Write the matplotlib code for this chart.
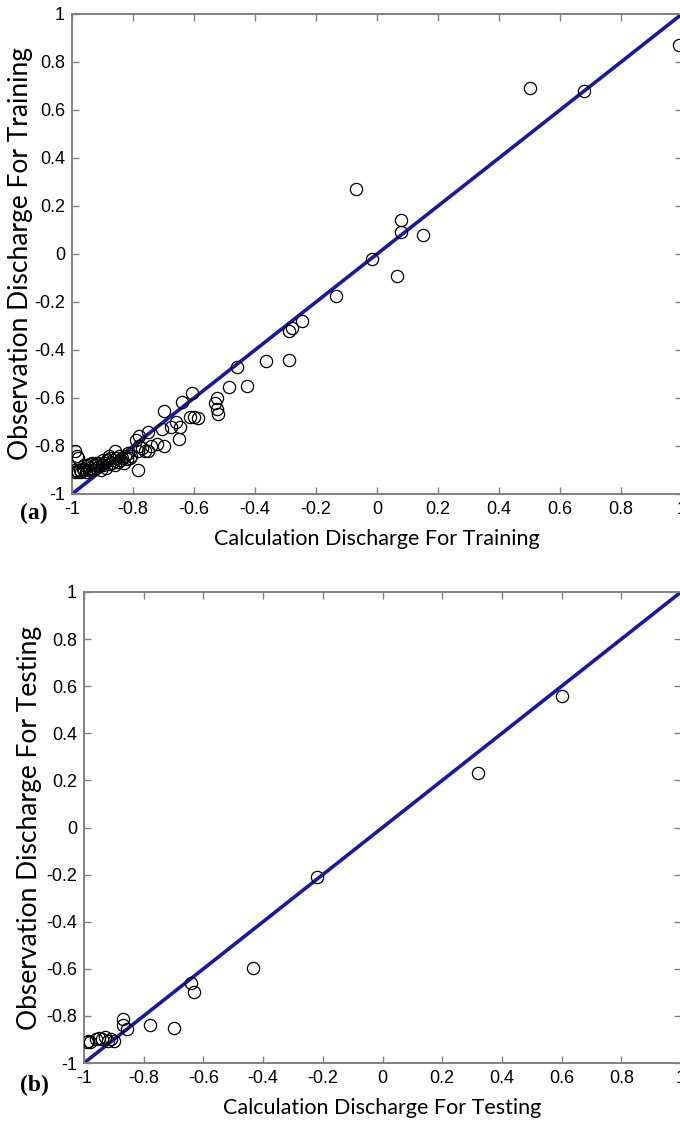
import matplotlib
matplotlib.use('Agg')
import matplotlib.pyplot as plt

# training set (calculated vs observed, normalised)
train_calc = [0.99, 0.50, 0.68, -0.07, 0.08, 0.08, 0.15, -0.015, 0.065, -0.135,
              -0.245, -0.28, -0.29, -0.29, -0.365, -0.46, -0.425, -0.485, -0.605, -0.64,
              -0.525, -0.53, -0.525, -0.52, -0.70, -0.60, -0.587, -0.613, -0.66, -0.645,
              -0.65, -0.75, -0.705, -0.675, -0.70, -0.75, -0.78, -0.785, -0.79, -0.78,
              -0.785, -0.99, -0.985, -0.98, -0.99, -0.99, -0.985,
              -0.98, -0.975, -0.97, -0.965, -0.96, -0.955, -0.95, -0.945, -0.94, -0.935,
              -0.93, -0.925, -0.92, -0.915, -0.91, -0.905, -0.90, -0.895, -0.89, -0.885,
              -0.88, -0.875, -0.87, -0.865, -0.86, -0.855, -0.85, -0.845, -0.84, -0.835,
              -0.83, -0.825, -0.82, -0.815, -0.81, -0.805, -0.86, -0.88, -0.77, -0.76,
              -0.74, -0.72, -0.90, -0.92, -0.94, -0.96]
train_obs = [0.87, 0.69, 0.68, 0.27, 0.14, 0.09, 0.08, -0.02, -0.09, -0.175,
             -0.28, -0.31, -0.32, -0.44, -0.445, -0.47, -0.55, -0.555, -0.58, -0.615,
             -0.60, -0.62, -0.645, -0.665, -0.655, -0.68, -0.685, -0.68, -0.70, -0.72,
             -0.77, -0.74, -0.73, -0.72, -0.80, -0.82, -0.80, -0.82, -0.775, -0.76,
             -0.90, -0.82, -0.84, -0.85, -0.90, -0.91, -0.905,
             -0.91, -0.90, -0.91, -0.895, -0.90, -0.91, -0.88, -0.90, -0.89, -0.87,
             -0.90, -0.88, -0.89, -0.87, -0.885, -0.90, -0.88, -0.87, -0.89, -0.86,
             -0.875, -0.85, -0.87, -0.86, -0.88, -0.85, -0.865, -0.84, -0.86, -0.85,
             -0.87, -0.84, -0.855, -0.83, -0.85, -0.84, -0.82, -0.84, -0.81, -0.82,
             -0.80, -0.79, -0.86, -0.87, -0.875, -0.88]

# testing set
test_calc = [0.60, 0.32, -0.22, -0.435, -0.64, -0.63, -0.78, -0.70, -0.87, -0.87,
             -0.855, -0.99, -0.985, -0.98, -0.96, -0.95, -0.94, -0.93, -0.92, -0.91, -0.90]
test_obs = [0.56, 0.23, -0.21, -0.595, -0.66, -0.70, -0.84, -0.85, -0.815, -0.84,
            -0.855, -0.91, -0.905, -0.91, -0.90, -0.895, -0.90, -0.89, -0.905, -0.90, -0.905]

ticks = [-1, -0.8, -0.6, -0.4, -0.2, 0, 0.2, 0.4, 0.6, 0.8, 1]
tick_labels = ['-1', '-0.8', '-0.6', '-0.4', '-0.2', '0', '0.2', '0.4', '0.6', '0.8', '1']

fig = plt.figure(figsize=(6.8, 11.23), dpi=100)
ax1 = fig.add_axes([72 / 680, 1 - 494 / 1123, 610 / 680, 480 / 1123])
ax2 = fig.add_axes([84 / 680, 1 - 1063 / 1123, 597 / 680, 471 / 1123])

panels = [
    (ax1, train_calc, train_obs, 'Calculation Discharge For Training',
     'Observation Discharge For Training', '(a)', 503 / 1123, 1),
    (ax2, test_calc, test_obs, 'Calculation Discharge For Testing',
     'Observation Discharge For Testing', '(b)', 1075 / 1123, 3),
]

for ax, xc, yo, xl, yl, tag, tag_y, ypad in panels:
    ax.plot([-1, 1], [-1, 1], color='#1818a8', lw=2.6, zorder=2)
    ax.plot(xc, yo, 'o', mfc='none', mec='black', ms=8.8, mew=0.9, zorder=3)
    ax.set_xlim(-1, 1)
    ax.set_ylim(-1, 1)
    ax.set_xticks(ticks)
    ax.set_yticks(ticks)
    ax.set_xticklabels(tick_labels, family='Liberation Sans', fontsize=13)
    ax.set_yticklabels(tick_labels, family='Liberation Sans', fontsize=13)
    ax.tick_params(direction='in', length=5, width=1, color='#808080',
                   top=True, right=True, pad=5)
    for s in ax.spines.values():
        s.set_color('#808080')
        s.set_linewidth(1.4)
    ax.set_xlabel(xl, family='Lato', fontsize=15.5, labelpad=8)
    ax.set_ylabel(yl, family='Lato', fontsize=19, labelpad=ypad)
    fig.text(20 / 680, 1 - tag_y, tag, family='Liberation Serif',
             fontweight='bold', fontsize=17, va='top', ha='left')

fig.savefig('out.png', dpi=100)
